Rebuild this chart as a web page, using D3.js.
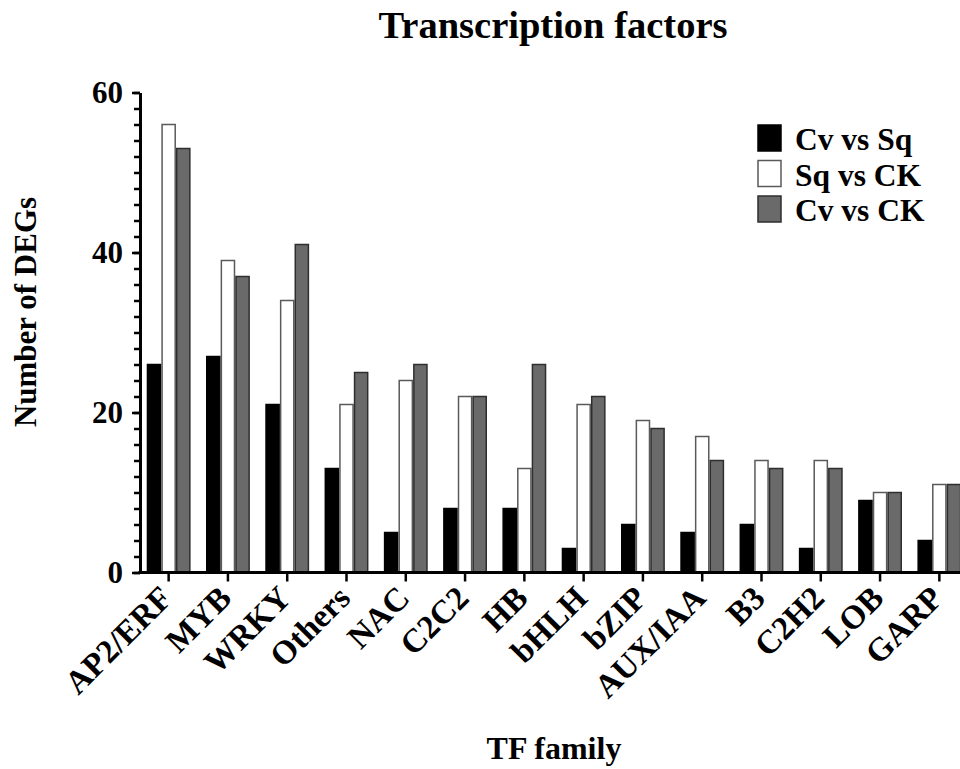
<!DOCTYPE html>
<html>
<head>
<meta charset="utf-8">
<script src="https://cdn.jsdelivr.net/npm/d3@7"></script>
<style>
  body { margin: 0; background: #fff; }
  svg text { font-family: "Liberation Serif", "Times New Roman", serif; font-weight: bold; fill: #000; }
</style>
</head>
<body>
<script>
// TF families and DEG counts per comparison
var families = ["AP2/ERF", "MYB", "WRKY", "Others", "NAC", "C2C2", "HB", "bHLH", "bZIP", "AUX/IAA", "B3", "C2H2", "LOB", "GARP"];
var series = ["Cv vs Sq", "Sq vs CK", "Cv vs CK"];
var cvVsSq = [26, 27, 21, 13, 5, 8, 8, 3, 6, 5, 6, 3, 9, 4];
var sqVsCk = [56, 39, 34, 21, 24, 22, 13, 21, 19, 17, 14, 14, 10, 11];
var cvVsCk = [53, 37, 41, 25, 26, 22, 26, 22, 18, 14, 13, 13, 10, 11];
var yTicks = [0, 20, 40, 60];

var values = [cvVsSq, sqVsCk, cvVsCk];
var fills = ["#000000", "#ffffff", "#6a6a6a"];
var strokes = ["#000000", "#5a5a5a", "#2e2e2e"];

var W = 960, H = 769;
var svg = d3.select("body").append("svg")
    .attr("width", W)
    .attr("height", H);

var x0 = d3.scaleBand().domain(families).range([139, 969]).paddingInner(0.26).paddingOuter(0.13);
var x1 = d3.scaleBand().domain(series).range([0, x0.bandwidth()]);
var y = d3.scaleLinear().domain([0, 60]).range([572.5, 92.5]);

// bars
var rows = families.map(function(f, i) {
    return { family: f, vals: series.map(function(s, j) { return { s: s, j: j, v: values[j][i] }; }) };
});

var groups = svg.append("g").selectAll("g")
    .data(rows)
    .enter().append("g")
    .attr("transform", function(d) { return "translate(" + x0(d.family) + ",0)"; });

groups.selectAll("rect")
    .data(function(d) { return d.vals; })
    .enter().append("rect")
    .attr("x", function(d) { return x1(d.s) + 0.75; })
    .attr("width", x1.bandwidth() - 1.5)
    .attr("y", function(d) { return y(d.v); })
    .attr("height", function(d) { return y(0) - y(d.v); })
    .style("fill", function(d) { return fills[d.j]; })
    .style("stroke", function(d) { return strokes[d.j]; })
    .style("stroke-width", 1.5);

// y axis: major + minor ticks
var yMinor = svg.append("g")
    .attr("transform", "translate(140,0)")
    .call(d3.axisLeft(y).tickValues(d3.range(0, 61, 2)).tickSize(6).tickFormat(""));
yMinor.select(".domain").remove();
yMinor.selectAll("line").style("stroke", "#000").style("stroke-width", 2.5);

var yAxis = svg.append("g")
    .attr("transform", "translate(140,0)")
    .call(d3.axisLeft(y).tickValues(yTicks).tickSize(8).tickSizeOuter(0).tickPadding(9));
yAxis.select(".domain").style("stroke", "#000").style("stroke-width", 3);
yAxis.selectAll("line").style("stroke", "#000").style("stroke-width", 2.5);
yAxis.selectAll("text").style("font-size", "31px").attr("dy", "0.33em");

// x axis
var xAxis = svg.append("g")
    .attr("transform", "translate(0," + y(0) + ")")
    .call(d3.axisBottom(x0).tickSize(9).tickSizeOuter(0));
xAxis.select(".domain").attr("d", "M138.5,0H960").style("stroke", "#000").style("stroke-width", 3);
xAxis.selectAll("line").style("stroke", "#000").style("stroke-width", 2.5);
xAxis.selectAll("text")
    .style("font-size", "33px")
    .style("text-anchor", "end")
    .attr("dy", "0")
    .attr("transform", "translate(-3,19) rotate(-45)");

// titles
svg.append("text")
    .attr("x", 553)
    .attr("y", 38)
    .attr("text-anchor", "middle")
    .style("font-size", "38.5px")
    .text("Transcription factors");

svg.append("text")
    .attr("x", 554)
    .attr("y", 759)
    .attr("text-anchor", "middle")
    .style("font-size", "32px")
    .text("TF family");

svg.append("text")
    .attr("transform", "translate(36,312) rotate(-90)")
    .attr("text-anchor", "middle")
    .style("font-size", "31px")
    .text("Number of DEGs");

// legend
var legend = svg.append("g").selectAll("g")
    .data(series)
    .enter().append("g")
    .attr("transform", function(d, i) { return "translate(758," + (125 + i * 35.5) + ")"; });

legend.append("rect")
    .attr("width", 23)
    .attr("height", 26)
    .style("fill", function(d, i) { return fills[i]; })
    .style("stroke", function(d, i) { return strokes[i]; })
    .style("stroke-width", 1.5);

legend.append("text")
    .attr("x", 37)
    .attr("y", 25)
    .style("font-size", "31.5px")
    .text(function(d) { return d; });
</script>
</body>
</html>
